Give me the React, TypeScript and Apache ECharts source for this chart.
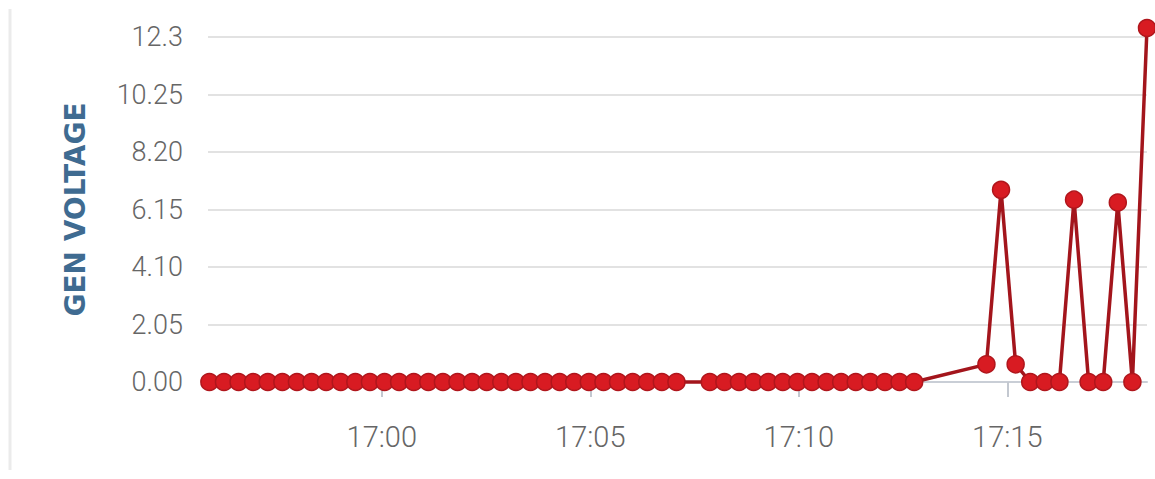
import React, { useEffect, useRef } from "react";
import * as echarts from "echarts";

const times: string[] = [
  "16:55:52", "16:56:13", "16:56:34", "16:56:55", "16:57:16", "16:57:37", "16:57:58", "16:58:19",
  "16:58:40", "16:59:01", "16:59:22", "16:59:43", "17:00:04", "17:00:25", "17:00:46", "17:01:07",
  "17:01:28", "17:01:49", "17:02:10", "17:02:31", "17:02:52", "17:03:13", "17:03:34", "17:03:55",
  "17:04:16", "17:04:37", "17:04:58", "17:05:19", "17:05:40", "17:06:01", "17:06:22", "17:06:43",
  "17:07:04",
  "17:07:52", "17:08:13", "17:08:34", "17:08:55", "17:09:16", "17:09:37", "17:09:58", "17:10:19",
  "17:10:40", "17:11:01", "17:11:22", "17:11:43", "17:12:04", "17:12:25", "17:12:46",
  "17:14:30", "17:14:51", "17:15:12", "17:15:33", "17:15:54", "17:16:15", "17:16:36", "17:16:57",
  "17:17:18", "17:17:39", "17:18:00", "17:18:21",
];

const voltage: number[] = [
  0, 0, 0, 0, 0, 0, 0, 0, 0, 0, 0, 0, 0, 0, 0, 0,
  0, 0, 0, 0, 0, 0, 0, 0, 0, 0, 0, 0, 0, 0, 0, 0,
  0,
  0, 0, 0, 0, 0, 0, 0, 0, 0, 0, 0, 0, 0, 0, 0,
  0.63, 6.85, 0.63, 0, 0, 0, 6.5, 0, 0, 6.4, 0, 12.62,
];

const xTickLabels: string[] = ["17:00:00", "17:05:00", "17:10:00", "17:15:00"];
const yTickLabels: string[] = ["0.00", "2.05", "4.10", "6.15", "8.20", "10.25", "12.3"];
const yStep = 2.05;
const yMax = 12.3;
const xStart = "16:55:50";
const xEnd = "17:18:21";
const yName = "GEN VOLTAGE";

const toMs = (s: string): number => {
  const [h, m, sec] = s.split(":").map(Number);
  return new Date(2024, 0, 1, h, m, sec).getTime();
};

const pad = (n: number) => String(n).padStart(2, "0");

export default function App() {
  const ref = useRef<HTMLDivElement>(null);
  useEffect(() => {
    if (!ref.current) return;
    const chart = echarts.init(ref.current, undefined, { renderer: "svg" });
    const xTicks = xTickLabels.map(toMs);
    chart.setOption({
      animation: false,
      backgroundColor: "#ffffff",
      textStyle: { fontFamily: "Roboto" },
      graphic: [
        {
          type: "line",
          shape: { x1: 10, y1: 9, x2: 10, y2: 470 },
          style: { stroke: "#ebebeb", lineWidth: 3 },
        },
      ],
      grid: { left: 208, right: 8, top: 37, bottom: 97 },
      xAxis: {
        type: "value",
        min: toMs(xStart),
        max: toMs(xEnd),
        scale: true,
        offset: 20,
        axisLine: { show: true, lineStyle: { color: "#c9ced6", width: 2 } },
        axisTick: {
          show: true,
          length: 15,
          customValues: xTicks,
          lineStyle: { color: "#c3c8d0", width: 2 },
        },
        axisLabel: {
          customValues: xTicks,
          formatter: (v: number) => {
            const d = new Date(v);
            return pad(d.getHours()) + ":" + pad(d.getMinutes());
          },
          color: "#666666",
          fontSize: 29,
          fontWeight: 300,
          fontFamily: "Roboto",
          margin: 20,
        },
        splitLine: { show: false },
      },
      yAxis: {
        type: "value",
        min: 0,
        max: yMax,
        interval: yStep,
        name: yName,
        nameLocation: "middle",
        nameGap: 119,
        nameTextStyle: {
          color: "#3f6b91",
          fontSize: 28,
          fontWeight: "bold",
          fontFamily: "DejaVu Sans",
        },
        axisLine: { show: false },
        axisTick: { show: false },
        axisLabel: {
          color: "#666666",
          fontSize: 27,
          fontWeight: 300,
          fontFamily: "Roboto",
          margin: 25,
          formatter: (v: number) => yTickLabels[Math.round(v / yStep)] ?? "",
        },
        splitLine: { show: true, lineStyle: { color: "#e2e2e2", width: 2 } },
      },
      series: [
        {
          type: "line",
          data: times.map((t, i) => [toMs(t), voltage[i]]),
          clip: false,
          symbol: "circle",
          symbolSize: 17,
          showAllSymbol: true,
          itemStyle: { color: "#d81b22", borderColor: "#b0161c", borderWidth: 1.5 },
          lineStyle: { color: "#a3151c", width: 3.5 },
        },
      ],
    });
    return () => chart.dispose();
  }, []);
  return (
    <div
      ref={ref}
      style={{ position: "fixed", left: 0, top: 0, width: 1155, height: 479 }}
    />
  );
}
